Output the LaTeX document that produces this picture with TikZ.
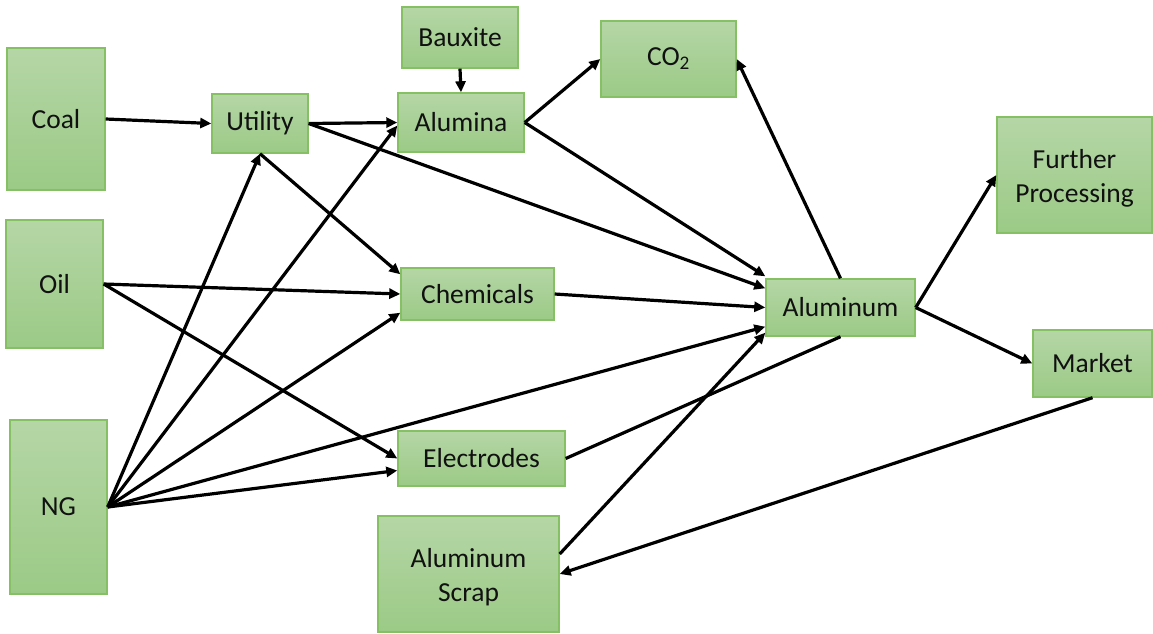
\documentclass[tikz,border=0pt]{standalone}
\usepackage{fontspec}
\setmainfont{Carlito}
\usetikzlibrary{arrows.meta}
\definecolor{gtop}{HTML}{B5D6A6}
\definecolor{gbot}{HTML}{9BCA86}
\definecolor{gline}{HTML}{85C065}
\definecolor{txt}{HTML}{111111}
\tikzset{
  box/.style={draw=gline, line width=1.4pt, top color=gtop, bottom color=gbot,
    inner sep=0pt, align=center, text=txt,
    font=\fontsize{27.5}{34}\selectfont},
  flow/.style={line width=3.2pt, -{Triangle[length=11pt,width=10pt]}},
  plain/.style={line width=3.2pt}
}
\begin{document}
\begin{tikzpicture}[x=1pt,y=-1pt]
\useasboundingbox (0,0) rectangle (1153,633);
\node[box, minimum width=98pt, minimum height=142pt] (coal) at (56,119) {Coal};
\node[box, minimum width=97pt, minimum height=128pt] (oil) at (54.5,284) {Oil};
\node[box, minimum width=97pt, minimum height=174pt] (ng) at (58.5,507) {NG};
\node[box, minimum width=96pt, minimum height=59pt] (util) at (260,123.5) {Utility};
\node[box, minimum width=116pt, minimum height=61pt] (baux) at (460,37.5) {Bauxite};
\node[box, minimum width=126pt, minimum height=59pt] (alumina) at (461,122.5) {Alumina};
\node[box, minimum width=135pt, minimum height=76pt] (co2) at (668.5,59) {CO\textsubscript{2}};
\node[box, minimum width=153pt, minimum height=52pt] (chem) at (477.5,294) {Chemicals};
\node[box, minimum width=167pt, minimum height=55pt] (elec) at (481.5,458.5) {Electrodes};
\node[box, minimum width=181pt, minimum height=116pt] (scrap) at (468.5,574) {\rule{0pt}{26pt}Aluminum\\Scrap};
\node[box, minimum width=149pt, minimum height=57pt] (alu) at (840.5,307.5) {Aluminum};
\node[box, minimum width=155pt, minimum height=116pt] (further) at (1074.5,175) {\rule{0pt}{26pt}Further\\Processing};
\node[box, minimum width=119pt, minimum height=67pt] (market) at (1092.5,363.5) {Market};

\draw[flow] (coal.east) -- (util.west);
\draw[flow] (util.east) -- (alumina.west);
\draw[flow] (util.east) -- ([yshift=-10pt]alu.north west);
\draw[flow] (util.south) -- ([yshift=-7pt]chem.north west);
\draw[flow] (baux.south) -- (alumina.north);
\draw[flow] (alumina.east) -- (co2.west);
\draw[flow] (alumina.east) -- ([yshift=2pt]alu.north west);
\draw[flow] (alu.north) -- (co2.east);
\draw[flow] (alu.east) -- (further.west);
\draw[flow] (alu.east) -- (market.west);
\draw[flow] (market.south) -- (scrap.east);
\draw[flow] ([yshift=20pt]scrap.east) -- ([yshift=4pt]alu.south west);
\draw[plain] (elec.east) -- (alu.south);
\draw[flow] (chem.east) -- (alu.west);
\draw[flow] (oil.east) -- (chem.west);
\draw[flow] (oil.east) -- (elec.west);
\draw[flow] (ng.east) -- (util.south);
\draw[flow] (ng.east) -- ([yshift=-3pt]alumina.west);
\draw[flow] (ng.east) -- ([yshift=8pt]chem.south west);
\draw[flow] (ng.east) -- ([yshift=10pt]alu.south west);
\draw[flow] (ng.east) -- ([yshift=-12pt]elec.west);
\end{tikzpicture}
\end{document}
